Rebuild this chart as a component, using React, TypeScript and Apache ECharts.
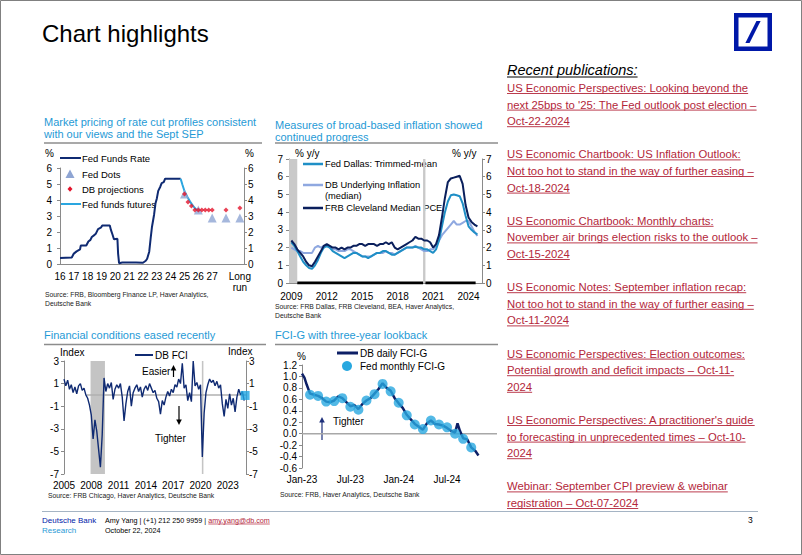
import React, { useEffect, useRef } from 'react';
import * as echarts from 'echarts';

const FONT = '"Liberation Sans", Arial, Helvetica, sans-serif';
const BLUE_TITLE = '#1f9ad6';
const NAVY = '#0f2a72';
const AX = '#8a8a8a';
const RED_LINK = '#b3263a';

// ---------------- Chart 1: Fed funds ----------------
const ffrDates = [2016.0, 2016.85, 2017.0, 2017.2, 2017.45, 2017.5, 2017.9, 2018.05, 2018.2, 2018.3, 2018.5, 2018.6, 2018.75, 2018.95, 2019.05, 2019.6, 2019.68, 2019.8, 2019.9, 2020.15, 2020.2, 2020.27, 2020.5, 2021.0, 2021.5, 2022.0, 2022.2, 2022.3, 2022.45, 2022.55, 2022.65, 2022.8, 2022.9, 2023.0, 2023.1, 2023.25, 2023.35, 2023.5, 2023.6, 2024.72];
const ffrValues = [0.37, 0.41, 0.65, 0.79, 0.91, 1.15, 1.16, 1.41, 1.51, 1.69, 1.82, 1.91, 2.18, 2.27, 2.40, 2.40, 2.13, 1.83, 1.55, 1.58, 0.65, 0.05, 0.09, 0.09, 0.10, 0.08, 0.20, 0.33, 0.77, 1.58, 2.33, 3.08, 3.78, 4.10, 4.57, 4.83, 5.06, 5.12, 5.33, 5.33];
const futuresDates = [2024.72, 2024.85, 2025.0, 2025.2, 2025.4, 2025.6, 2025.8, 2026.0, 2026.1];
const futuresValues = [5.33, 4.95, 4.55, 4.2, 3.9, 3.65, 3.45, 3.35, 3.33];
const fedDotsDates = [2025.0, 2026.0, 2027.0, 2028.0, 2029.0];
const fedDotsValues = [4.375, 3.375, 2.875, 2.875, 2.875];
const dbProjDates = [2025.0, 2025.25, 2025.5, 2025.75, 2026.0, 2026.25, 2026.5, 2026.75, 2027.0, 2028.0, 2029.0];
const dbProjValues = [4.375, 3.875, 3.625, 3.375, 3.375, 3.375, 3.375, 3.375, 3.375, 3.375, 3.5];
const c1XTicks = [2016, 2017, 2018, 2019, 2020, 2021, 2022, 2023, 2024, 2025, 2026, 2027, 2029];

// ---------------- Chart 2: underlying inflation (quarterly from 2009) ----------------
const c2Start = 2009;
const c2Step = 0.25;
const dallasTrimmed = [2.3, 2.1, 1.8, 1.5, 1.2, 1.0, 0.85, 0.8, 1.0, 1.3, 1.7, 2.0, 2.1, 2.0, 1.8, 1.7, 1.6, 1.5, 1.4, 1.5, 1.6, 1.7, 1.7, 1.6, 1.5, 1.5, 1.4, 1.5, 1.6, 1.7, 1.7, 1.8, 1.8, 1.7, 1.6, 1.6, 1.7, 1.8, 1.9, 2.0, 2.0, 2.0, 2.05, 2.0, 2.0, 1.9, 1.9, 1.8, 1.7, 1.9, 2.4, 3.2, 4.0, 4.6, 4.95, 5.0, 4.95, 4.9, 4.5, 3.8, 3.2, 3.0, 2.85, 2.75];
const dbUnderlying = [2.0, 1.9, 1.8, 1.8, 1.7, 1.7, 1.7, 1.7, 2.0, 2.1, 2.0, 2.1, 2.1, 2.0, 1.9, 1.9, 1.8, 1.8, 1.8, 1.9, 1.9, 1.8, 1.7, 1.6, 1.5, 1.5, 1.5, 1.5, 1.6, 1.7, 1.7, 1.7, 1.8, 1.7, 1.7, 1.6, 1.7, 1.8, 1.9, 2.0, 2.0, 2.0, 2.1, 2.0, 1.9, 1.8, 1.8, 1.9, 1.9, 2.1, 2.4, 2.7, 2.9, 3.1, 3.3, 3.5, 3.3, 3.3, 3.4, 3.5, 3.5, 3.2, 2.9, 2.65];
const clevelandMedian = [2.4, 2.2, 1.9, 1.7, 1.5, 1.2, 1.0, 0.95, 1.2, 1.5, 1.8, 2.1, 2.2, 2.1, 2.0, 2.0, 1.9, 2.0, 1.9, 2.0, 2.0, 2.1, 2.1, 2.2, 2.2, 2.1, 2.2, 2.2, 2.2, 2.1, 2.2, 2.2, 2.3, 2.2, 2.3, 2.0, 1.9, 2.0, 2.1, 2.2, 2.3, 2.4, 2.6, 2.5, 2.5, 2.4, 2.4, 2.3, 2.0, 2.2, 2.7, 3.7, 4.8, 5.7, 5.9, 5.95, 6.0, 6.05, 5.6, 4.4, 3.7, 3.45, 3.3, 3.2];
const c2XTicks = [2009, 2012, 2015, 2018, 2021, 2024];
const c2Recessions = [[2008.8, 2009.5], [2020.15, 2020.35]];

// ---------------- Chart 3: DB FCI (every 0.2 yr from 2005) ----------------
const fciStart = 2005;
const fciStep = 0.2;
const dbFci = [1.4, 0.8, 1.3, 0.5, 0.9, 0.2, 0.7, 0.1, 0.8, 1.0, 0.4, 0.6, 0.0, -0.3, -0.9, -1.8, -3.9, -2.2, -3.2, -4.8, -6.4, -3.5, 1.5, 0.3, 1.0, 0.6, 1.1, -0.4, 0.5, 0.9, 0.6, 1.0, -0.2, -2.3, -0.8, 0.3, 0.8, -1.0, 0.2, 0.6, 0.9, 0.3, 0.7, -0.2, 0.5, 0.8, 0.4, 1.0, 0.6, 0.2, 0.4, -0.3, -0.6, -1.7, -0.5, -0.9, -0.2, 0.3, -0.1, 0.5, 0.2, 0.9, 0.7, 1.4, 1.0, 2.8, 0.6, 0.9, -0.5, 0.2, -0.6, 3.0, 0.8, 1.1, 0.5, 0.9, -5.5, -1.6, 0.2, 0.9, 1.4, 1.1, 1.3, 0.8, 1.2, 0.6, 0.9, -0.8, -1.9, -0.4, -1.2, 0.1, -0.9, -0.3, -1.5, -0.2, 0.5, 0.0, 0.3, -0.5];
const c3XTicks = [2005, 2008, 2011, 2014, 2017, 2020, 2023];
const c3YTicks = [-7, -5, -3, -1, 1, 3];
const c3Recessions = [[2007.92, 2009.5], [2020.15, 2020.32]];
const fciLatestDate = 2024.9;
const fciLatestValue = -0.05;

// ---------------- Chart 4: FCI-G (months since Jan-23) ----------------
const fcigDailyMonths = [0, 0.3, 0.6, 1.0, 1.5, 2.0, 2.5, 3.0, 3.5, 4.0, 4.5, 5.0, 5.5, 6.0, 6.5, 7.0, 7.5, 8.0, 8.5, 9.0, 9.5, 10.0, 10.5, 11.0, 11.5, 12.0, 12.5, 13.0, 13.5, 14.0, 14.5, 15.0, 15.5, 16.0, 16.5, 17.0, 17.5, 18.0, 18.5, 19.0, 19.3, 19.6, 20.0, 20.5, 21.0, 21.5, 21.9];
const fcigDaily = [1.05, 0.98, 0.85, 0.70, 0.68, 0.66, 0.62, 0.56, 0.55, 0.58, 0.65, 0.62, 0.55, 0.48, 0.50, 0.43, 0.52, 0.58, 0.62, 0.70, 0.78, 0.88, 0.80, 0.75, 0.62, 0.53, 0.45, 0.33, 0.25, 0.17, 0.12, 0.07, 0.18, 0.23, 0.17, 0.16, 0.14, 0.10, 0.05, 0.02, 0.18, 0.05, -0.08, -0.10, -0.24, -0.30, -0.38];
const fcigMonthlyMonths = [1, 2, 3, 4, 5, 6, 7, 8, 9, 10, 11, 12, 13, 14, 15, 16, 17, 18, 19, 20, 21];
const fcigMonthly = [0.68, 0.66, 0.56, 0.57, 0.62, 0.47, 0.42, 0.58, 0.69, 0.87, 0.74, 0.54, 0.32, 0.16, 0.08, 0.23, 0.16, 0.11, 0.0, -0.09, -0.24];
const c4XTicks = [0, 6, 12, 18];
const c4XLabels = ['Jan-23', 'Jul-23', 'Jan-24', 'Jul-24'];

// ---------------- Right column ----------------
const pubBlocks = [
  ['US Economic Perspectives: Looking beyond the', "next 25bps to '25: The Fed outlook post election –", 'Oct-22-2024'],
  ['US Economic Chartbook: US Inflation Outlook:', 'Not too hot to stand in the way of further easing –', 'Oct-18-2024'],
  ['US Economic Chartbook: Monthly charts:', 'November air brings election risks to the outlook –', 'Oct-15-2024'],
  ['US Economic Notes: September inflation recap:', 'Not too hot to stand in the way of further easing –', 'Oct-11-2024'],
  ['US Economic Perspectives: Election outcomes:', 'Potential growth and deficit impacts – Oct-11-', '2024'],
  ["US Economic Perspectives: A practitioner's guide", 'to forecasting in unprecedented times – Oct-10-', '2024'],
  ['Webinar: September CPI preview & webinar', 'registration – Oct-07-2024'],
];

const zip = (xs: number[], ys: number[]) => xs.map((x, i) => [x, ys[i]]);
const seq = (start: number, step: number, ys: number[]) => ys.map((y, i) => [+(start + i * step).toFixed(3), y]);

let _ctx: CanvasRenderingContext2D | null = null;
function textWidth(s: string, size: number, style = '') {
  if (!_ctx) _ctx = document.createElement('canvas').getContext('2d');
  if (!_ctx) return s.length * size * 0.5;
  _ctx.font = `${style} ${size}px "Liberation Sans", Arial, sans-serif`;
  return _ctx.measureText(s).width;
}

function T(x: number, y: number, text: string, size: number, fill = '#000', extra: any = {}) {
  return {
    type: 'text',
    x,
    y,
    silent: true,
    style: {
      text,
      fill,
      fontSize: size,
      fontFamily: FONT,
      fontStyle: extra.fontStyle || 'normal',
      fontWeight: extra.fontWeight || 'normal',
      align: extra.align || 'left',
      textAlign: extra.align || 'left',
      verticalAlign: 'middle',
      textVerticalAlign: 'middle',
    },
  };
}
function L(x1: number, y1: number, x2: number, y2: number, stroke: string, lineWidth = 1) {
  return { type: 'line', silent: true, shape: { x1, y1, x2, y2 }, style: { stroke, lineWidth } };
}
function arrow(x: number, yFrom: number, yTo: number, color: string) {
  const dir = yTo < yFrom ? 1 : -1;
  return [
    L(x, yFrom, x, yTo + dir * 4, color, 1.2),
    { type: 'polygon', silent: true, shape: { points: [[x - 2.8, yTo + dir * 5.5], [x + 2.8, yTo + dir * 5.5], [x, yTo]] }, style: { fill: color } },
  ];
}

function buildGraphic() {
  const els: any[] = [];
  // frame
  els.push({ type: 'rect', silent: true, shape: { x: 0.5, y: 0.5, width: 801, height: 554 }, style: { fill: 'none', stroke: '#808080', lineWidth: 1 } });
  // page title
  els.push(T(42, 33, 'Chart highlights', 24, '#000'));
  // logo
  const lx = 734, ly = 13, ls = 38;
  els.push({ type: 'rect', silent: true, shape: { x: lx + 2.25, y: ly + 2.25, width: ls - 4.5, height: ls - 4.5 }, style: { fill: 'none', stroke: '#0018a8', lineWidth: 4.5 } });
  els.push({
    type: 'polygon', silent: true,
    shape: { points: [[lx + ls * 0.30, ly + ls * 0.79], [lx + ls * 0.41, ly + ls * 0.79], [lx + ls * 0.70, ly + ls * 0.21], [lx + ls * 0.59, ly + ls * 0.21]] },
    style: { fill: '#0018a8' },
  });

  // chart titles
  els.push(T(44, 122, 'Market pricing of rate cut profiles consistent', 11, BLUE_TITLE));
  els.push(T(44, 134, 'with our views and the Sept SEP', 11, BLUE_TITLE));
  els.push(L(44, 143, 262, 143, '#8c8c8c', 1.5));
  els.push(T(275, 125, 'Measures of broad-based inflation showed', 11, BLUE_TITLE));
  els.push(T(275, 137, 'continued progress', 11, BLUE_TITLE));
  els.push(L(275, 143, 498, 143, '#8c8c8c', 1.5));
  els.push(T(44, 335, 'Financial conditions eased recently', 11, BLUE_TITLE));
  els.push(L(44, 344.5, 266, 344.5, '#8c8c8c', 1.5));
  els.push(T(275, 335, 'FCI-G with three-year lookback', 11, BLUE_TITLE));
  els.push(L(275, 344.5, 498, 344.5, '#8c8c8c', 1.5));

  // chart 1 annotations & legend
  els.push(T(45, 153, '%', 10));
  els.push(T(245, 153, '%', 10));
  els.push(L(60, 158, 81, 158, NAVY, 2));
  els.push(T(82, 158, 'Fed Funds Rate', 9.5));
  els.push({ type: 'polygon', silent: true, shape: { points: [[70, 169.5], [74.5, 178], [65.5, 178]] }, style: { fill: '#8fa5d3' } });
  els.push(T(82, 174, 'Fed Dots', 9.5));
  els.push({ type: 'polygon', silent: true, shape: { points: [[70, 186.3], [72.5, 189], [70, 191.7], [67.5, 189]] }, style: { fill: '#e3132b' } });
  els.push(T(82, 189, 'DB projections', 9.5));
  els.push(L(60, 204, 81, 204, '#2aa6e0', 2));
  els.push(T(82, 204, 'Fed funds futures', 9.5));
  els.push(T(45, 294, 'Source: FRB, Bloomberg Finance LP, Haver Analytics,', 6.8, '#222'));
  els.push(T(45, 303, 'Deutsche Bank', 6.8, '#222'));

  // chart 2 annotations & legend
  els.push(T(295, 153.5, '% y/y', 10));
  els.push(T(452, 153.5, '% y/y', 10));
  els.push(L(303, 164, 323, 164, '#1f8fc6', 2.5));
  els.push(T(325, 164, 'Fed Dallas: Trimmed-mean', 9.3));
  els.push(L(303, 185, 323, 185, '#8fa8e0', 2.5));
  els.push(T(325, 185, 'DB Underlying Inflation', 9.3));
  els.push(T(325, 196, '(median)', 9.3));
  els.push(L(303, 208, 323, 208, '#0a1f5c', 2.5));
  els.push(T(325, 208, 'FRB Cleveland Median PCE', 9.3));
  els.push(T(275, 306, 'Source: FRB Dallas, FRB Cleveland, BEA, Haver Analytics,', 6.8, '#222'));
  els.push(T(275, 315, 'Deutsche Bank', 6.8, '#222'));

  // chart 3 annotations & legend
  els.push(T(60, 352, 'Index', 10));
  els.push(T(228, 351, 'Index', 10));
  els.push(L(135, 355, 153, 355, NAVY, 2));
  els.push(T(155, 355, 'DB FCI', 10));
  els.push(T(142, 371, 'Easier', 10));
  els.push(...arrow(173.5, 377, 365, '#000'));
  els.push(T(155, 438, 'Tighter', 10));
  els.push(...arrow(179, 406, 425, '#000'));
  els.push(T(48, 495, 'Source: FRB Chicago, Haver Analytics, Deutsche Bank', 6.8, '#222'));

  // chart 4 annotations & legend
  els.push(T(297, 356, '%', 10));
  els.push(L(337, 353, 358, 353, '#0d1f66', 3));
  els.push(T(360, 353, 'DB daily FCI-G', 10));
  els.push({ type: 'circle', silent: true, shape: { cx: 347, cy: 366, r: 5 }, style: { fill: '#28a8e0' } });
  els.push(T(360, 366, 'Fed monthly FCI-G', 10));
  els.push(T(333, 421, 'Tighter', 10));
  els.push(...arrow(322, 440, 417, '#1d2f7a'));
  els.push(T(280, 494, 'Source: FRB, Haver Analytics, Deutsche Bank', 6.8, '#222'));

  // right column
  els.push(T(507, 70, 'Recent publications:', 14.5, '#000', { fontStyle: 'italic' }));
  els.push(L(507, 77, 507 + textWidth('Recent publications:', 14.5, 'italic'), 77, '#000', 1));
  let li = 0;
  pubBlocks.forEach((block) => {
    block.forEach((line) => {
      const y = 88 + li * 16.6;
      els.push(T(507, y, line, 11.3, RED_LINK));
      els.push(L(507, y + 5.5, 507 + textWidth(line, 11.3), y + 5.5, RED_LINK, 0.9));
      li += 1;
    });
    li += 1;
  });

  // footer
  els.push(L(42, 511.5, 758, 511.5, '#a5b4c4', 1));
  els.push(T(42, 520, 'Deutsche Bank', 8, '#0018a8'));
  els.push(T(42, 530, 'Research', 8, '#2b9ad6'));
  const pre = 'Amy Yang | (+1) 212 250 9959 | ';
  els.push(T(105, 520, pre, 7.2, '#000'));
  const ex = 105 + textWidth(pre, 7.2);
  els.push(T(ex, 520, 'amy.yang@db.com', 7.2, RED_LINK));
  els.push(L(ex, 524, ex + textWidth('amy.yang@db.com', 7.2), 524, RED_LINK, 0.7));
  els.push(T(105, 530, 'October 22, 2024', 7.2, '#000'));
  els.push(T(748, 520, '3', 8.5, '#000'));
  return els;
}

const lbl = { fontSize: 10, color: '#000', fontFamily: FONT };

function yAx(grid: number, pos: string, min: number, max: number, o: any) {
  const ax: any = {
    type: 'value', gridIndex: grid, position: pos, min, max,
    axisLine: { show: true, lineStyle: { color: AX, width: 1 } },
    axisTick: { show: true, length: 3, inside: false, lineStyle: { color: AX } },
    splitLine: { show: false },
    axisLabel: { ...lbl, margin: o.margin },
  };
  if (o.interval != null) ax.interval = o.interval;
  if (o.custom) {
    ax.axisLabel.customValues = o.custom;
    ax.axisTick.customValues = o.custom;
  }
  if (o.fmt) ax.axisLabel.formatter = o.fmt;
  return ax;
}

function xAx(grid: number, min: number, max: number, o: any) {
  return {
    type: 'value', gridIndex: grid, min, max,
    axisLine: { show: o.line !== false, onZero: false, lineStyle: { color: AX, width: 1 } },
    axisTick: { show: false },
    splitLine: { show: false },
    axisLabel: { ...lbl, margin: o.margin, customValues: o.custom, formatter: o.fmt, lineHeight: 11 },
  };
}

function buildOption() {
  return {
    animation: false,
    backgroundColor: '#fff',
    textStyle: { fontFamily: FONT },
    grid: [
      { left: 60, top: 168, width: 184, height: 96 },
      { left: 289, top: 159, width: 193, height: 124 },
      { left: 64, top: 361, width: 182, height: 113 },
      { left: 302, top: 365, width: 195, height: 103 },
    ],
    xAxis: [
      xAx(0, 2016, 2029.3, { margin: 7, custom: c1XTicks, fmt: (v: number) => (Math.round(v) === 2029 ? 'Long\nrun' : String(Math.round(v) - 2000)) }),
      xAx(1, 2008.8, 2025.14, { margin: 8, custom: c2XTicks, fmt: (v: number) => String(Math.round(v)) }),
      xAx(2, 2005, 2025, { margin: 6, line: false, custom: c3XTicks, fmt: (v: number) => String(Math.round(v)) }),
      xAx(3, 0, 24.2, { margin: 6, line: false, custom: c4XTicks, fmt: (v: number) => c4XLabels[c4XTicks.indexOf(Math.round(v))] ?? '' }),
    ],
    yAxis: [
      yAx(0, 'left', 0, 6, { interval: 1, margin: 8 }),
      yAx(0, 'right', 0, 6, { interval: 1, margin: 4 }),
      yAx(1, 'left', 0, 7, { interval: 1, margin: 6 }),
      yAx(1, 'right', 0, 7, { interval: 1, margin: 4 }),
      yAx(2, 'left', -7, 3, { custom: c3YTicks, margin: 5 }),
      yAx(2, 'right', -7, 3, { custom: c3YTicks, margin: 3 }),
      yAx(3, 'left', -0.6, 1.2, { interval: 0.2, margin: 5, fmt: (v: number) => (Math.abs(v) < 1e-9 ? '0.0' : v.toFixed(1)) }),
    ],
    series: [
      // chart 1
      { type: 'line', name: 'Fed Funds Rate', xAxisIndex: 0, yAxisIndex: 0, data: zip(ffrDates, ffrValues), symbol: 'none', lineStyle: { color: NAVY, width: 2 }, z: 3, silent: true },
      { type: 'line', name: 'Fed funds futures', xAxisIndex: 0, yAxisIndex: 0, data: zip(futuresDates, futuresValues), symbol: 'none', lineStyle: { color: '#2aa6e0', width: 2 }, z: 3, silent: true },
      { type: 'scatter', name: 'Fed Dots', xAxisIndex: 0, yAxisIndex: 0, data: zip(fedDotsDates, fedDotsValues), symbol: 'triangle', symbolSize: 9, itemStyle: { color: '#8fa5d3' }, z: 4, silent: true },
      { type: 'scatter', name: 'DB projections', xAxisIndex: 0, yAxisIndex: 0, data: zip(dbProjDates, dbProjValues), symbol: 'diamond', symbolSize: 5, itemStyle: { color: '#e3132b' }, z: 5, silent: true },
      // chart 2
      {
        type: 'line', xAxisIndex: 1, yAxisIndex: 2, data: [[2009.5, 0], [c2Recessions[1][0], 0]], symbol: 'none', lineStyle: { color: '#000', width: 3 }, z: 2, silent: true,
        markArea: { silent: true, itemStyle: { color: '#c9c9c9' }, data: c2Recessions.map((r) => [{ xAxis: r[0] }, { xAxis: r[1] }]) },
      },
      { type: 'line', xAxisIndex: 1, yAxisIndex: 2, data: [[c2Recessions[1][1], 0], [2024.6, 0]], symbol: 'none', lineStyle: { color: '#000', width: 3 }, z: 2, silent: true },
      { type: 'line', name: 'DB Underlying Inflation', xAxisIndex: 1, yAxisIndex: 2, data: seq(c2Start, c2Step, dbUnderlying), symbol: 'none', lineStyle: { color: '#8fa8e0', width: 2 }, z: 3, silent: true },
      { type: 'line', name: 'Fed Dallas: Trimmed-mean', xAxisIndex: 1, yAxisIndex: 2, data: seq(c2Start, c2Step, dallasTrimmed), symbol: 'none', lineStyle: { color: '#1f8fc6', width: 2 }, z: 4, silent: true },
      { type: 'line', name: 'FRB Cleveland Median PCE', xAxisIndex: 1, yAxisIndex: 2, data: seq(c2Start, c2Step, clevelandMedian), symbol: 'none', lineStyle: { color: '#0a1f5c', width: 2 }, z: 5, silent: true },
      // chart 3
      {
        type: 'line', xAxisIndex: 2, yAxisIndex: 4, data: [[2007.5, 0], [2025, 0]], symbol: 'none', lineStyle: { color: '#b0b0b0', width: 1.5 }, z: 2, silent: true,
        markArea: { silent: true, itemStyle: { color: '#c4c4c4' }, data: c3Recessions.map((r) => [{ xAxis: r[0] }, { xAxis: r[1] }]) },
      },
      { type: 'line', name: 'DB FCI', xAxisIndex: 2, yAxisIndex: 4, data: seq(fciStart, fciStep, dbFci), symbol: 'none', lineStyle: { color: NAVY, width: 1.4 }, z: 3, silent: true },
      { type: 'scatter', xAxisIndex: 2, yAxisIndex: 4, data: [[fciLatestDate, fciLatestValue]], symbol: 'rect', symbolSize: 9, itemStyle: { color: '#1fa5e2' }, z: 5, silent: true },
      // chart 4
      { type: 'line', xAxisIndex: 3, yAxisIndex: 6, data: [[0, 0], [24.2, 0]], symbol: 'none', lineStyle: { color: '#a8a8a8', width: 1.5 }, z: 2, silent: true },
      { type: 'line', name: 'DB daily FCI-G', xAxisIndex: 3, yAxisIndex: 6, data: zip(fcigDailyMonths, fcigDaily), symbol: 'none', lineStyle: { color: '#0d1f66', width: 2.5 }, z: 3, silent: true },
      { type: 'scatter', name: 'Fed monthly FCI-G', xAxisIndex: 3, yAxisIndex: 6, data: zip(fcigMonthlyMonths, fcigMonthly), symbol: 'circle', symbolSize: 10, itemStyle: { color: '#28a8e0' }, z: 4, silent: true },
    ],
    graphic: { elements: buildGraphic() },
  };
}

export default function App() {
  const ref = useRef<HTMLDivElement>(null);
  useEffect(() => {
    if (!ref.current) return;
    const chart = echarts.init(ref.current, null, { renderer: 'svg', width: 802, height: 555 });
    chart.setOption(buildOption() as any);
    return () => chart.dispose();
  }, []);
  return <div ref={ref} style={{ position: 'absolute', left: 0, top: 0, width: 802, height: 555, background: '#fff' }} />;
}
